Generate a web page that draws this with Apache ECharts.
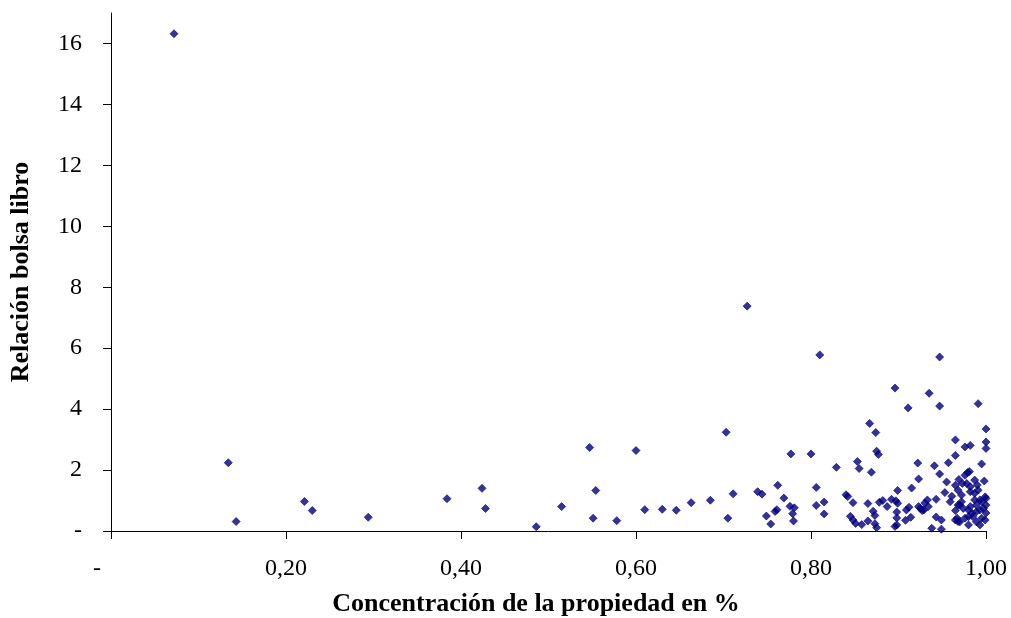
<!DOCTYPE html>
<html><head><meta charset="utf-8">
<script src="https://cdn.jsdelivr.net/npm/echarts@6/dist/echarts.min.js"></script>
<style>html,body{margin:0;padding:0;background:#fff}#c{width:1011px;height:618px}</style>
</head><body><div id="c"></div>
<script>
// Concentración de la propiedad (x) and Relación bolsa libro (y)
const concentracion = [
0.072,0.134,0.143,0.221,0.230,0.294,0.384,0.424,0.428,0.486,
0.515,0.547,0.554,0.551,0.578,0.600,0.610,0.630,0.646,0.663,
0.685,0.703,0.727,0.705,0.711,0.739,0.744,0.762,0.749,0.754,
0.759,0.761,0.769,0.777,0.776,0.781,0.779,0.780,0.800,0.806,
0.806,0.810,0.815,0.815,0.829,0.840,0.842,0.848,0.845,0.848,
0.851,0.858,0.853,0.855,0.867,0.874,0.875,0.877,0.869,0.865,
0.865,0.871,0.873,0.873,0.875,0.878,0.882,0.887,0.892,0.897,
0.899,0.899,0.896,0.898,0.898,0.896,0.898,0.909,0.912,0.908,
0.914,0.911,0.915,0.922,0.923,0.923,0.927,0.930,0.933,0.934,
0.935,0.941,0.943,0.938,0.949,0.943,0.949,0.947,0.947,0.947,
0.955,0.957,0.953,0.959,0.961,0.965,0.965,0.965,0.969,0.973,
0.976,0.982,0.976,0.979,0.981,0.978,0.982,0.987,0.990,0.991,
1.000,1.000,1.000,0.995,0.998,0.968,0.972,0.968,0.967,0.968,
0.991,0.987,0.982,0.999,1.000,0.995,0.993,0.987,0.989,0.972,
0.970,0.974,0.982,0.980,0.997,0.993,0.989,0.984,0.985,0.976,
0.980,0.995,0.999,0.989,0.970,0.980,0.993,1.000,1.000,0.965,
0.925,0.929,0.965
];
const relacionBolsaLibro = [
16.32,2.24,0.31,0.97,0.67,0.45,1.06,1.40,0.74,0.14,
0.80,2.74,1.33,0.42,0.34,2.64,0.70,0.71,0.68,0.93,
1.01,3.24,7.38,0.42,1.22,1.29,1.21,1.50,0.49,0.23,
0.64,0.70,1.08,2.53,0.81,0.76,0.57,0.33,2.53,1.43,
0.84,5.78,0.95,0.56,2.09,1.19,1.13,0.93,0.48,0.36,
0.25,0.21,2.28,2.05,3.53,3.23,2.62,2.51,1.93,0.90,
0.33,0.65,0.51,0.24,0.11,0.94,1.00,0.80,1.04,0.99,
0.91,1.33,4.69,0.62,0.43,0.15,0.20,0.69,0.78,0.35,
0.45,4.04,1.41,2.23,1.71,0.80,0.67,0.92,1.02,0.80,
4.52,2.14,1.04,0.09,0.06,0.46,0.36,1.87,5.71,4.10,
1.61,2.24,1.26,0.96,1.14,1.50,2.48,2.99,1.69,1.56,
2.76,2.81,1.83,1.92,1.95,1.56,1.45,1.67,1.51,4.18,
3.35,2.92,2.71,2.20,1.64,1.34,1.18,0.85,0.42,0.31,
1.34,1.24,1.29,1.12,1.07,0.96,1.02,1.02,0.85,0.96,
0.85,0.74,0.80,0.69,0.74,0.69,0.63,0.58,0.47,0.42,
0.47,0.42,0.36,0.30,0.30,0.20,0.20,0.59,0.85,0.67,
0.74,0.69,0.36
];
const xTickValues = [0, 0.2, 0.4, 0.6, 0.8, 1.0];
const yTickValues = [0, 2, 4, 6, 8, 10, 12, 14, 16];
const xTitle = 'Concentración de la propiedad en %';
const yTitle = 'Relación bolsa libro';

const points = concentracion.map((x, i) => [x, relacionBolsaLibro[i]]);
const serif = "'Liberation Serif','Times New Roman',serif";
const chart = echarts.init(document.getElementById('c'), null, {renderer: 'canvas'});
chart.setOption({
  animation: false,
  backgroundColor: '#ffffff',
  grid: {left: 111, right: 25, top: 13, bottom: 87, containLabel: false, outerBoundsMode: 'none'},
  xAxis: {
    type: 'value', min: 0, max: 1, interval: 0.2,
    name: xTitle, nameLocation: 'middle', nameGap: 60,
    nameTextStyle: {fontFamily: serif, fontWeight: 'bold', fontSize: 26, color: '#000', padding: [0, 25, 0, 0]},
    axisLine: {show: true, onZero: false, lineStyle: {color: '#000', width: 1}},
    axisTick: {show: true, inside: false, length: 8, lineStyle: {color: '#000'}, customValues: xTickValues},
    splitLine: {show: false},
    axisLabel: {
      customValues: xTickValues,
      margin: 26, fontFamily: serif, fontSize: 24, color: '#000',
      formatter: v => v === 0 ? '{z|-}' : v.toFixed(2).replace('.', ','),
      rich: {z: {fontFamily: serif, fontSize: 24, color: '#000', padding: [0, 28, 0, 0]}}
    }
  },
  yAxis: {
    type: 'value', min: 0, max: 17,
    name: yTitle, nameLocation: 'middle', nameGap: 77,
    nameTextStyle: {fontFamily: serif, fontWeight: 'bold', fontSize: 26, color: '#000'},
    axisLine: {show: true, onZero: false, lineStyle: {color: '#000', width: 1}},
    axisTick: {show: true, inside: false, length: 8, lineStyle: {color: '#000'}, customValues: yTickValues},
    splitLine: {show: false},
    axisLabel: {
      customValues: yTickValues,
      margin: 29, fontFamily: serif, fontSize: 24, color: '#000',
      formatter: v => v === 0 ? '-' : String(v)
    }
  },
  series: [{
    type: 'scatter',
    data: points,
    symbol: 'diamond',
    symbolSize: 8,
    itemStyle: {color: '#000080', borderColor: '#000080', borderWidth: 0.8}
  }]
});
</script></body></html>
